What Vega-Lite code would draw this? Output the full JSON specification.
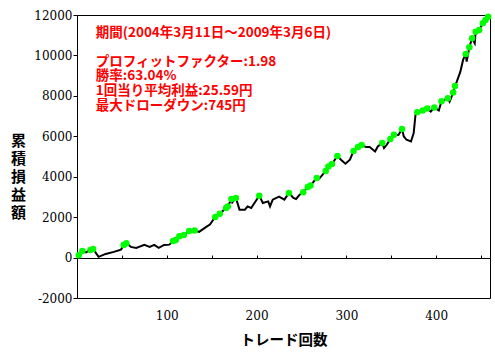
{
  "$schema": "https://vega.github.io/schema/vega-lite/v6.json",
  "width": 413,
  "height": 283,
  "autosize": "none",
  "padding": {"left": 77, "top": 15, "right": 5, "bottom": 61},
  "background": "white",
  "config": {"view": {"stroke": "black", "strokeWidth": 1}, "axis": {"grid": false}},
  "data": {"values": [
    {"t":2,"v":110,"h":true},{"t":6,"v":330,"h":true},{"t":10,"v":260,"h":false},{"t":15,"v":380,"h":true},{"t":18,"v":430,"h":true},
    {"t":24,"v":35,"h":false},{"t":32,"v":180,"h":false},{"t":41,"v":280,"h":false},{"t":49,"v":395,"h":false},{"t":52,"v":627,"h":true},
    {"t":55,"v":706,"h":true},{"t":60,"v":530,"h":false},{"t":66,"v":480,"h":false},{"t":75,"v":627,"h":false},{"t":81,"v":530,"h":false},
    {"t":86,"v":627,"h":false},{"t":91,"v":480,"h":false},{"t":97,"v":627,"h":false},{"t":103,"v":640,"h":false},{"t":107,"v":825,"h":true},
    {"t":110,"v":874,"h":true},{"t":114,"v":1052,"h":true},{"t":119,"v":1121,"h":true},{"t":125,"v":1318,"h":true},{"t":131,"v":1340,"h":true},
    {"t":136,"v":1269,"h":false},{"t":144,"v":1516,"h":false},{"t":148,"v":1630,"h":false},{"t":154,"v":2010,"h":true},{"t":159,"v":2173,"h":true},
    {"t":166,"v":2454,"h":true},{"t":168,"v":2533,"h":true},{"t":172,"v":2899,"h":true},{"t":173,"v":2731,"h":false},{"t":177,"v":2948,"h":true},
    {"t":181,"v":2370,"h":false},{"t":187,"v":2370,"h":false},{"t":190,"v":2533,"h":false},{"t":194,"v":2454,"h":false},{"t":203,"v":3062,"h":true},
    {"t":207,"v":2701,"h":false},{"t":213,"v":2780,"h":false},{"t":215,"v":2533,"h":false},{"t":218,"v":2864,"h":false},{"t":225,"v":3020,"h":false},
    {"t":231,"v":2864,"h":false},{"t":236,"v":3195,"h":true},{"t":241,"v":2948,"h":false},{"t":244,"v":2899,"h":false},{"t":248,"v":3111,"h":false},
    {"t":252,"v":3230,"h":true},{"t":257,"v":3491,"h":true},{"t":260,"v":3570,"h":true},{"t":267,"v":3936,"h":true},{"t":270,"v":3920,"h":false},
    {"t":277,"v":4281,"h":true},{"t":280,"v":4508,"h":true},{"t":284,"v":4627,"h":true},{"t":290,"v":5022,"h":true},{"t":294,"v":4839,"h":false},
    {"t":299,"v":4642,"h":false},{"t":304,"v":4839,"h":false},{"t":308,"v":5269,"h":true},{"t":313,"v":5466,"h":true},{"t":317,"v":5565,"h":true},
    {"t":322,"v":5466,"h":false},{"t":326,"v":5466,"h":false},{"t":332,"v":5249,"h":false},{"t":335,"v":5496,"h":false},{"t":340,"v":5664,"h":true},
    {"t":342,"v":5417,"h":false},{"t":345,"v":5580,"h":false},{"t":349,"v":5861,"h":true},{"t":353,"v":6074,"h":true},{"t":358,"v":6060,"h":false},
    {"t":362,"v":6355,"h":true},{"t":364,"v":5990,"h":false},{"t":367,"v":5827,"h":false},{"t":372,"v":5743,"h":false},{"t":375,"v":6158,"h":false},
    {"t":377,"v":7061,"h":false},{"t":379,"v":7195,"h":true},{"t":385,"v":7274,"h":true},{"t":390,"v":7380,"h":true},{"t":394,"v":7224,"h":false},
    {"t":398,"v":7420,"h":true},{"t":403,"v":7274,"h":false},{"t":406,"v":7738,"h":true},{"t":413,"v":7886,"h":true},{"t":415,"v":7718,"h":false},
    {"t":419,"v":8163,"h":true},{"t":421,"v":8493,"h":true},{"t":423,"v":8706,"h":false},{"t":427,"v":9200,"h":false},{"t":430,"v":9777,"h":false},
    {"t":433,"v":10074,"h":true},{"t":434,"v":9693,"h":false},{"t":437,"v":10405,"h":true},{"t":440,"v":10849,"h":true},{"t":443,"v":10602,"h":false},
    {"t":444,"v":11175,"h":true},{"t":448,"v":11259,"h":true},{"t":452,"v":11590,"h":true},{"t":455,"v":11753,"h":true},{"t":458,"v":11916,"h":true}
  ]},
  "resolve": {"axis": {"x": "independent"}},
  "layer": [
    {
      "mark": {"type": "line", "color": "black", "strokeWidth": 2, "clip": true},
      "encoding": {
        "x": {"field": "t", "type": "quantitative",
          "scale": {"domain": [0, 460], "nice": false, "zero": false},
          "axis": {"values": [100, 200, 300, 400], "ticks": false, "domain": false,
            "labelFont": "DejaVu Serif", "labelFontSize": 12, "labelColor": "black", "labelPadding": 12,
            "title": "トレード回数", "titleFont": "Noto Sans CJK JP", "titleFontSize": 14.5, "titleFontWeight": "bold",
            "titleColor": "black", "titleBaseline": "middle", "titleY": 42}},
        "y": {"field": "v", "type": "quantitative",
          "scale": {"domain": [-2000, 12000], "nice": false, "zero": false},
          "axis": {"values": [-2000,-1000,0,1000,2000,3000,4000,5000,6000,7000,8000,9000,10000,11000,12000],
            "labelExpr": "datum.value % 2000 === 0 ? '' + datum.value : ''",
            "tickSize": 4, "tickColor": "black", "domainColor": "black",
            "labelFont": "DejaVu Serif", "labelFontSize": 12, "labelColor": "black", "labelPadding": 1,
            "title": ["累", "積", "損", "益", "額"], "titleAngle": 0, "titleFont": "Noto Sans CJK JP",
            "titleFontSize": 15, "titleFontWeight": "bold", "titleColor": "black", "titleLineHeight": 18,
            "titleAlign": "center", "titleBaseline": "middle", "titleX": -59, "titleY": 125}}
      }
    },
    {
      "transform": [{"filter": "datum.h"}],
      "mark": {"type": "circle", "color": "#00ff00", "opacity": 1, "size": 42},
      "encoding": {
        "x": {"field": "t", "type": "quantitative",
          "axis": {"orient": "top", "offset": -243, "values": [50,100,150,200,250,300,350,400,450],
            "labels": false, "tickSize": 3, "tickColor": "black", "domainColor": "black", "title": null}},
        "y": {"field": "v", "type": "quantitative"}
      }
    },
    {
      "data": {"values": [{"label": "期間(2004年3月11日～2009年3月6日)"}]},
      "mark": {"type": "text", "align": "left", "baseline": "top", "color": "#ff0000",
        "font": "Noto Sans CJK JP", "fontWeight": "bold", "fontSize": 13.5},
      "encoding": {
        "x": {"datum": 21, "type": "quantitative", "axis": null},
        "y": {"datum": 11450, "type": "quantitative"},
        "text": {"field": "label"}
      }
    },
    {
      "data": {"values": [{"label": ["プロフィットファクター:1.98", "勝率:63.04%", "1回当り平均利益:25.59円", "最大ドローダウン:745円"]}]},
      "mark": {"type": "text", "align": "left", "baseline": "top", "color": "#ff0000",
        "font": "Noto Sans CJK JP", "fontWeight": "bold", "fontSize": 13.5, "lineHeight": 14.6},
      "encoding": {
        "x": {"datum": 21, "type": "quantitative", "axis": null},
        "y": {"datum": 10030, "type": "quantitative"},
        "text": {"field": "label"}
      }
    }
  ]
}
